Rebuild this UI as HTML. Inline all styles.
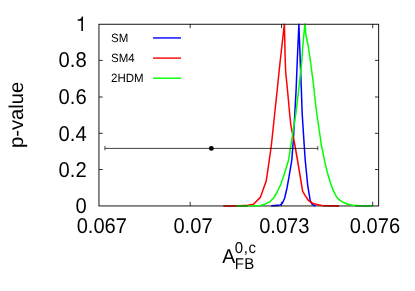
<!DOCTYPE html>
<html><head><meta charset="utf-8">
<style>
html,body{margin:0;padding:0;background:#fff;}
svg{display:block;will-change:transform;}
text{font-family:"Liberation Sans",sans-serif;fill:#000;text-rendering:geometricPrecision;}
</style></head><body>
<svg width="415" height="291" viewBox="0 0 415 291" xmlns="http://www.w3.org/2000/svg">
<rect width="415" height="291" fill="#fff"/>
<!-- frame -->
<g stroke="#000" stroke-width="0.92" fill="none">
<rect x="98.95" y="24.25" width="279.7" height="181.7"/>
<!-- x ticks bottom -->
<path stroke-width="0.8" d="M190.2 206v-4.2M281.5 206v-4.2M372.7 206v-4.2"/>
<path stroke-width="0.8" d="M190.2 24v4.2M281.5 24v4.2M372.7 24v4.2"/>
<!-- y ticks -->
<path stroke-width="0.8" d="M99 169.5h3.8M99 133.3h3.8M99 97h3.8M99 60.4h3.8"/>
<path stroke-width="0.8" d="M378.7 169.5h-3.7M378.7 133.3h-3.7M378.7 97h-3.7M378.7 60.4h-3.7"/>
</g>
<!-- curves -->
<clipPath id="c"><rect x="90" y="23.9" width="300" height="184"/></clipPath>
<g fill="none" stroke-width="1.5" stroke-linejoin="round" stroke-linecap="butt" clip-path="url(#c)">
<polyline stroke="#0000ff" points="271.3,205.7 280.5,204.9 282.5,203 284.7,198 287,188 289,176.9 291.8,160 293.2,142 294.8,114 296.2,88 297.3,60 298.9,24 300.2,60 301.3,88 302.2,114 304,142 305.2,160 307.7,185.3 310.2,200.5 311.8,204 313.6,205.2 315.5,206"/>
<polyline stroke="#ff0000" points="223.5,206 240,205.7 248,205.2 253.5,204.2 260.3,197.4 266.2,181.1 269.3,160 271.5,144 277.4,88 280.3,60 284.4,24 285.2,60 285.7,72.5 287.3,88 289.7,114 290.9,125.6 294.3,142 297.5,160 302.6,191.2 305,195.4 308.5,200.5 313.6,203.8 322,205.5 339,206"/>
<polyline stroke="#00ff00" points="236.4,206 255,205.8 260.3,205.5 265,204.2 270.4,201.3 274,197.5 277.2,192 280.5,185 283.9,175.2 288.6,160 291.4,142 295.8,114 298.9,88 301.9,60 302.7,47.5 303.7,36 305,24 306,35.5 308.2,46 310.3,60 313.9,88 315.1,100 316.6,112 321.2,144 322.4,150 324.9,162.4 327.4,172.7 330.5,183 333.6,191.2 336.6,197 339.7,200.1 343.9,202.8 348,204.3 353.1,205.3 359,205.8 372.3,206"/>
</g>
<g stroke="#000" stroke-opacity="0.38" stroke-width="1.6" fill="none">
<path d="M283.4 24.4h2M297.9 24.4h2M304 24.4h2M223.2 206H248M271.3 206H279M323 206H339M355 206H372.3"/>
</g>
<!-- legend -->
<g stroke-width="1.4">
<line x1="153" x2="181" y1="37.95" y2="37.95" stroke="#0000ff"/>
<line x1="153" x2="181" y1="58.1" y2="58.1" stroke="#ff0000"/>
<line x1="153" x2="181" y1="78.2" y2="78.2" stroke="#00ff00"/>
</g>
<g font-size="11.5">
<text transform="translate(111,42.3) scale(1,1.045)">SM</text>
<text transform="translate(111,62.3) scale(1,1.045)">SM4</text>
<text transform="translate(111,82.3) scale(1,1.045)">2HDM</text>
</g>
<!-- data point -->
<g stroke="#000">
<line x1="104.9" x2="317.8" y1="148.4" y2="148.4" stroke-width="0.75"/>
<line x1="104.9" x2="104.9" y1="146" y2="150.3" stroke-width="0.7"/>
<line x1="317.8" x2="317.8" y1="146" y2="150.3" stroke-width="0.7"/>
</g>
<circle cx="211.35" cy="148.4" r="2.45" fill="#000"/>
<!-- y labels -->
<path transform="translate(75.9,31)" d="M1.7-10.15V-11.48C4.1-11.58 5.53-12.3 5.95-14.53H7.05V0H5.45V-10.15Z" fill="#000"/>
<g font-size="20" text-anchor="end">
<text transform="translate(86.7,67.4) scale(1.01,1.07)">0.8</text>
<text transform="translate(86.7,104) scale(1.01,1.07)">0.6</text>
<text transform="translate(86.7,140.5) scale(1.01,1.07)">0.4</text>
<text transform="translate(86.7,176.8) scale(1.01,1.07)">0.2</text>
<text transform="translate(86.7,213.1) scale(1.01,1.07)">0</text>
</g>
<g font-size="20" text-anchor="middle">
<text transform="translate(101.8,233.2) scale(1.005,1.07)">0.067</text>
<text transform="translate(193,233.2) scale(1.005,1.07)">0.07</text>
<text transform="translate(284.3,233.2) scale(1.005,1.07)">0.073</text>
<text transform="translate(375,233.2) scale(1.005,1.07)">0.076</text>
</g>
<text transform="translate(222.2,262.6) scale(1,1.03)" font-size="19.5">A</text>
<text transform="translate(234.7,252.7) scale(1,1.05)" font-size="15" letter-spacing="0.6">0,c</text>
<text transform="translate(234.7,268.7) scale(1,1.05)" font-size="15" letter-spacing="0.3">FB</text>
<text transform="translate(22.6,148) rotate(-90) scale(1.01,1)" font-size="20">p-value</text>
</svg>
</body></html>
